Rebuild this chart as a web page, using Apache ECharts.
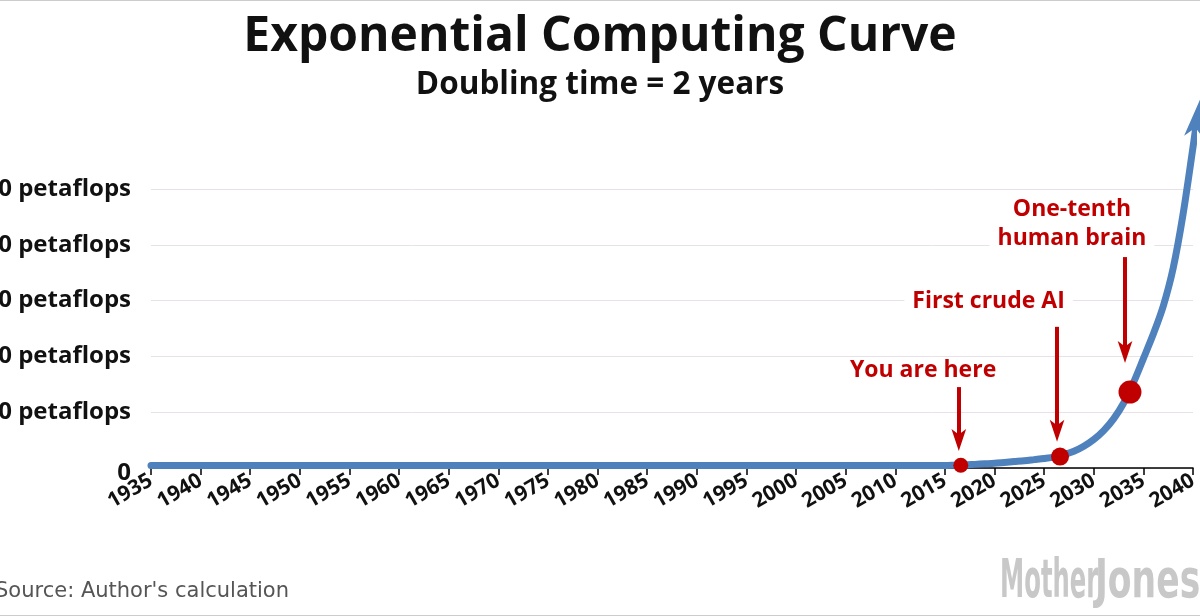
<!DOCTYPE html>
<html><head><meta charset="utf-8">
<script src="https://cdn.jsdelivr.net/npm/echarts@6/dist/echarts.min.js"></script>
<style>html,body{margin:0;padding:0;background:#fff}#c{width:1200px;height:616px}</style>
</head><body><div id="c"></div>
<script>
// ---- data ----
const years = [1935,1940,1945,1950,1955,1960,1965,1970,1975,1980,1985,1990,1995,2000,2005,2010,
  2015,2016,2017,2018,2019,2020,2021,2022,2023,2024,2025,2026,2027,2028,2029,2030,2031,2032,2033,2034,2035,2036,2037,2038,2039,2040,2040.4];
const petaflops = [0.45,0.45,0.45,0.45,0.45,0.45,0.45,0.45,0.45,0.45,0.45,0.45,0.45,0.45,0.45,0.45,
  0.45,0.5,0.55,0.65,0.75,0.85,1.0,1.15,1.3,1.5,1.7,1.95,2.4,3.0,3.9,5.1,6.7,8.8,11.6,15.3,19.6,24.0,29.0,35.8,45.5,57.5,62.5];
const curveTip = [2040.7, 66.0];
const milestoneYears = [2016.6, 2026.6, 2033.65];
const milestoneValues = [0.5, 2.05, 13.6];
const yTicks = [0, 10, 20, 30, 40, 50];
const xTicks = [1935, 2040, 5]; // min, max, step
const labelTexts = ['You are here', 'First crude AI', 'One-tenth\nhuman brain', 'Full AI'];
const labelYears = [2012.8, 2019.4, 2027.8, 2035.2];
const labelValues = [17.4, 29.8, 43.8, 69.0];
const arrowYears = [2016.4, 2026.3, 2033.15];
const arrowFrom = [14.5, 25.3, 37.8];
const arrowShaftEnd = [5.0, 6.6, 20.8];
const arrowTip = [3.05, 4.7, 18.8];

// ---- styles ----
const RED = '#c00000', BLUE = '#4f81bd', INK = '#111';
const FONT = '"Open Sans", Lato, sans-serif';
const dotSizes = [15, 18, 23];
const LOGO_FONT = 'bold 54px "DejaVu Sans", sans-serif';

const chart = echarts.init(document.getElementById('c'), null, {renderer: 'canvas'});
chart.setOption({
  backgroundColor: '#ffffff',
  animation: false,
  title: [
    {text: 'Exponential Computing Curve', left: 'center', top: 4,
     textStyle: {fontFamily: FONT, fontWeight: 'bold', fontSize: 48, lineHeight: 56, color: INK}},
    {text: 'Doubling time = 2 years', left: 'center', top: 62,
     textStyle: {fontFamily: FONT, fontWeight: 'bold', fontSize: 31.5, lineHeight: 36, color: INK}}
  ],
  grid: {left: 151, right: 7, top: 189, bottom: 148, containLabel: false, outerBoundsMode: 'none'},
  xAxis: {
    type: 'value', min: xTicks[0], max: xTicks[1], interval: xTicks[2],
    axisLine: {show: true, onZero: false, lineStyle: {color: '#000', width: 1.5}},
    axisTick: {show: true, length: 7, lineStyle: {color: '#000', width: 1.5}},
    splitLine: {show: false},
    axisLabel: {rotate: 30, margin: 11, fontFamily: FONT, fontWeight: 'bold', fontSize: 21, color: INK,
      formatter: v => String(v), showMinLabel: true, showMaxLabel: true, hideOverlap: false}
  },
  yAxis: {
    type: 'value', min: yTicks[0], max: yTicks[yTicks.length - 1], interval: yTicks[1] - yTicks[0],
    axisLine: {show: false}, axisTick: {show: false},
    splitLine: {show: true, lineStyle: {color: '#e8e1e9', width: 1}},
    axisLabel: {margin: 20, fontFamily: FONT, fontWeight: 'bold', fontSize: 24, color: INK,
      formatter: v => v === 0 ? '{z|0}' : v + ' petaflops',
      rich: {z: {fontFamily: FONT, fontWeight: 'bold', fontSize: 24, color: INK, padding: [10, 0, 0, 0]}}}
  },
  series: [
    {
      type: 'line', name: 'computing', clip: false, smooth: 0.3,
      symbol: 'none', z: 3,
      lineStyle: {color: BLUE, width: 7, cap: 'round', join: 'round'},
      data: years.map((y, i) => [y, petaflops[i]])
    },
    {
      type: 'scatter', name: 'arrowhead', clip: false, z: 4, silent: true,
      symbol: 'arrow', symbolSize: [15, 38], symbolRotate: -9,
      itemStyle: {color: BLUE, opacity: 1},
      data: [curveTip]
    },
    {
      type: 'scatter', name: 'pointers', clip: false, z: 5, silent: true,
      symbol: 'arrow', symbolSize: [11, 22], symbolRotate: 180,
      itemStyle: {color: RED, opacity: 1},
      data: arrowYears.map((y, i) => [y, arrowTip[i]]),
      markLine: {
        silent: true, animation: false, symbol: ['none', 'none'],
        label: {show: false},
        lineStyle: {color: RED, width: 4, type: 'solid', opacity: 1},
        data: arrowYears.map((y, i) => [{coord: [y, arrowFrom[i]]}, {coord: [y, arrowShaftEnd[i]]}])
      }
    },
    {
      type: 'scatter', name: 'milestones', clip: false, z: 5, silent: true,
      itemStyle: {color: RED, opacity: 1},
      symbolSize: (v, p) => dotSizes[p.dataIndex],
      data: milestoneYears.map((y, i) => [y, milestoneValues[i]]),
      markPoint: {
        silent: true, animation: false,
        symbol: 'circle', symbolSize: 1, itemStyle: {color: 'rgba(0,0,0,0)'},
        data: labelTexts.map((t, i) => ({
          coord: [labelYears[i], labelValues[i]],
          label: {
            show: true, formatter: t,
            position: i === 3 ? 'right' : 'inside', distance: 0,
            color: RED, fontFamily: FONT, fontWeight: 'bold', fontSize: 23, lineHeight: i === 0 ? 25 : 29,
            align: i === 3 ? 'left' : 'center',
            backgroundColor: i === 3 ? 'transparent' : '#ffffff', padding: [0, 8]
          }
        }))
      }
    }
  ],
  graphic: [
    {type: 'line', shape: {x1: 0, y1: 0.5, x2: 1200, y2: 0.5}, style: {stroke: '#cccccc', lineWidth: 1}},
    {type: 'line', shape: {x1: 0, y1: 615.5, x2: 1200, y2: 615.5}, style: {stroke: '#cccccc', lineWidth: 1}},
    {type: 'text', x: 289, y: 592, style: {text: "Source: Author's calculation", fill: '#555555',
      font: '21px "DejaVu Sans", sans-serif', textAlign: 'right', textVerticalAlign: 'middle'}},
    {type: 'group', x: 1000, y: 583, scaleX: 0.45, scaleY: 1,
      children: [{type: 'text', x: 0, y: 0, style: {text: 'Mother', fill: '#c8c8c8', font: LOGO_FONT,
          textAlign: 'left', textVerticalAlign: 'middle'}}]},
    {type: 'group', x: 1095, y: 583, scaleX: 0.64, scaleY: 1,
      children: [{type: 'text', x: 0, y: 0, style: {text: 'Jones', fill: '#c8c8c8', font: LOGO_FONT,
          textAlign: 'left', textVerticalAlign: 'middle'}}]}
  ]
});
</script></body></html>
